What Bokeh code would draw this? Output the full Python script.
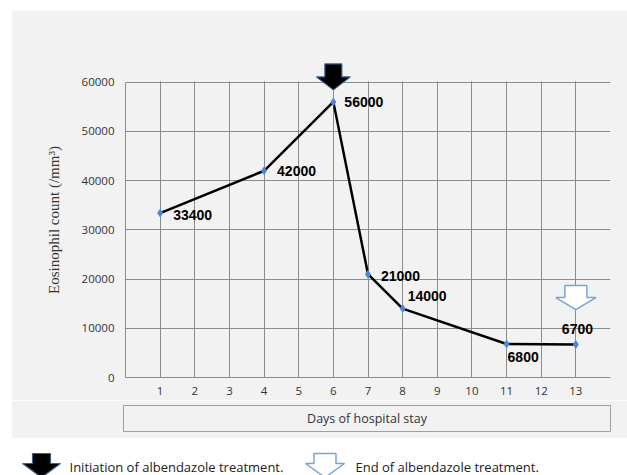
from bokeh.plotting import figure
from bokeh.models import Range1d, FixedTicker, BoxAnnotation, ColumnDataSource
from bokeh.core.properties import value
from bokeh.embed import file_html
from bokeh.resources import INLINE

# ---------------- data ----------------
days = [1, 4, 6, 7, 8, 11, 13]
counts = [33400, 42000, 56000, 21000, 14000, 6800, 6700]
point_labels = ["33400", "42000", "56000", "21000", "14000", "6800", "6700"]
x_ticks = list(range(1, 14))
y_ticks = [0, 10000, 20000, 30000, 40000, 50000, 60000]
x_axis_title = "Days of hospital stay"
y_axis_title = "Eosinophil count (/mm³)"
legend_start = "Initiation of albendazole treatment."
legend_end = "End of albendazole treatment."
start_index = 2   # albendazole started at day 6
end_index = 6     # ended at day 13

# ---------------- style ----------------
label_dx = [13, 13, 11, 13, 5, 1, -14]
label_dy = [2, 0, 0, 2, -13, 13, -16]

BG = "#f2f2f2"
GRID = "#8c8c8c"
TICK_FONT = "Open Sans"
W, H = 616, 390
MB_L, MB_R, MB_T, MB_B = 114, 17, 52, 23
X0, X1 = 0, 14
Y0, Y1 = 0, 64000          # headroom for the treatment-start arrow
Y_TOP = 60000              # top of the drawn grid / axis

p = figure(width=W, height=H, x_range=Range1d(X0, X1), y_range=Range1d(Y0, Y1),
           output_backend="svg", toolbar_location=None,
           min_border_left=MB_L, min_border_right=MB_R,
           min_border_top=MB_T, min_border_bottom=MB_B,
           background_fill_color=BG, border_fill_color=BG,
           outline_line_color=None,
           margin=(10, 0, 0, 11))

p.xaxis.ticker = FixedTicker(ticks=x_ticks)
p.yaxis.ticker = FixedTicker(ticks=y_ticks)
p.xgrid.ticker = FixedTicker(ticks=x_ticks + [X1])
p.ygrid.ticker = FixedTicker(ticks=y_ticks)
p.yaxis.bounds = (Y0, Y_TOP)
for g in (p.xgrid, p.ygrid):
    g.grid_line_color = GRID
    g.grid_line_width = 1
for ax in (p.xaxis, p.yaxis):
    ax.axis_line_color = GRID
    ax.axis_line_width = 1
    ax.major_tick_line_color = None
    ax.minor_tick_line_color = None
    ax.major_tick_out = 0
    ax.major_tick_in = 0
    ax.major_label_text_font = TICK_FONT
    ax.major_label_text_font_size = "11.5px"
    ax.major_label_text_color = "#333333"
p.xaxis.major_label_standoff = 9
p.yaxis.major_label_standoff = 11
p.yaxis.axis_label = y_axis_title
p.yaxis.axis_label_standoff = 17
p.yaxis.axis_label_text_font = "Liberation Serif"
p.yaxis.axis_label_text_font_size = "15px"
p.yaxis.axis_label_text_font_style = "normal"
p.yaxis.axis_label_text_color = "#333333"

# pixel -> data conversion
fw = W - MB_L - MB_R
fh = H - MB_T - MB_B
xpx = (X1 - X0) / fw
ypx = (Y1 - Y0) / fh

# hide the vertical grid lines in the headroom above the top grid line
p.add_layout(BoxAnnotation(bottom=Y_TOP + 1.0 * ypx, fill_color=BG, fill_alpha=1,
                           line_color=None, level="underlay"))

src = ColumnDataSource(dict(x=days, y=counts, t=point_labels, dx=label_dx, dy=label_dy))
p.line("x", "y", source=src, line_color="black", line_width=2.5)
p.scatter("x", "y", source=src, marker="diamond", size=9,
          fill_color="#4f86d9", line_color=None)
p.text("x", "y", text="t", x_offset="dx", y_offset="dy", source=src,
       text_font=value("Liberation Sans"), text_font_style="bold",
       text_font_size="14px", text_baseline="middle", text_align="left",
       text_color="black")


def arrow(cx, tip, head_len, shaft_len, shaft_half, head_half):
    base = tip + head_len
    top = base + shaft_len
    xs = [cx - shaft_half, cx + shaft_half, cx + shaft_half, cx + head_half,
          cx, cx - head_half, cx - shaft_half]
    ys = [top, top, base, base, tip, base, base]
    return xs, ys


xs, ys = arrow(days[start_index], counts[start_index] + 12 * ypx, 13 * ypx, 13 * ypx,
               8.5 * xpx, 17 * xpx)
p.patch(xs, ys, fill_color="black", line_color="#3b5f8f", line_width=1.2)
xs, ys = arrow(days[end_index], counts[end_index] + 35 * ypx, 12 * ypx, 12 * ypx,
               11 * xpx, 20 * xpx)
p.patch(xs, ys, fill_color="white", line_color="#7ba3d6", line_width=1.5)

# ---------------- x-axis title box ----------------
b = figure(width=W, height=38, x_range=Range1d(0, 1), y_range=Range1d(0, 1),
           output_backend="svg", toolbar_location=None,
           x_axis_type=None, y_axis_type=None,
           min_border_left=112, min_border_right=17, min_border_top=5, min_border_bottom=7,
           background_fill_color=BG, border_fill_color=BG,
           outline_line_color="#a0a0a0", outline_line_width=1,
           margin=(0, 0, 0, 11))
b.grid.visible = False
b.text(x=[0.5], y=[0.5], text=[x_axis_title], text_align="center", text_baseline="middle",
       text_font=value(TICK_FONT), text_font_size="12.5px", text_color="#333333")

# ---------------- legend ----------------
LW, LH = 627, 37
c = figure(width=LW, height=LH, x_range=Range1d(0, LW), y_range=Range1d(LH, 0),
           output_backend="svg", toolbar_location=None,
           x_axis_type=None, y_axis_type=None, min_border=0,
           background_fill_color="white", border_fill_color="white",
           outline_line_color=None)
c.grid.visible = False
bx, by = arrow(41, 39, -14, -10, 9, 19)
c.patch(bx, by, fill_color="black", line_color="#3b5f8f", line_width=1.2)
wx, wy = arrow(324.5, 39, -14, -10, 11, 19.5)
c.patch(wx, wy, fill_color="white", line_color="#7ba3d6", line_width=1.5)
c.text(x=[69, 355], y=[28, 28], text=[legend_start, legend_end],
       text_align="left", text_baseline="middle",
       text_font=value(TICK_FONT), text_font_size="13px", text_color="#222222")

open("out.html", "w").write(file_html([p, b, c], INLINE))
